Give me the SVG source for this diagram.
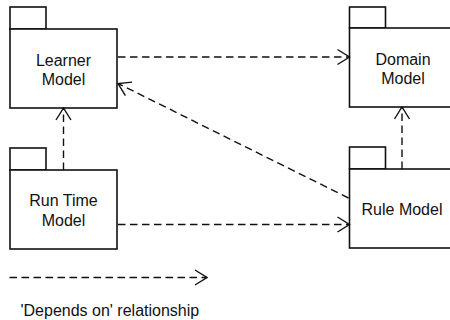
<svg xmlns="http://www.w3.org/2000/svg" width="450" height="320" viewBox="0 0 450 320">
<style>
.box{fill:#fff;stroke:#111;stroke-width:1.6}
.lbl{font-family:"Liberation Sans",Arial,sans-serif;font-size:16px;fill:#111;text-anchor:middle}
.dep{fill:none;stroke:#111;stroke-width:1.4;stroke-dasharray:7.5 4.5}
.head{fill:none;stroke:#111;stroke-width:1.4}
</style>
<defs>
<marker id="open" viewBox="0 0 14 18" refX="13" refY="9" markerWidth="14" markerHeight="18" markerUnits="userSpaceOnUse" orient="auto">
<path d="M1,1.5 L13,9 L1,16.5" class="head"/>
</marker>
</defs>
<rect width="450" height="320" fill="#fff"/>
<g id="learner">
<rect class="box" x="10" y="7" width="36" height="22"/>
<rect class="box" x="10" y="29" width="107" height="79"/>
<text class="lbl" x="63.5" y="66">Learner</text>
<text class="lbl" x="63.5" y="84.5">Model</text>
</g>
<g id="domain">
<rect class="box" x="349.5" y="7" width="36" height="21"/>
<rect class="box" x="349.5" y="28" width="120" height="79"/>
<text class="lbl" x="403" y="64.5">Domain</text>
<text class="lbl" x="403" y="83.5">Model</text>
</g>
<g id="runtime">
<rect class="box" x="10" y="148" width="36" height="22"/>
<rect class="box" x="10" y="170" width="107" height="79"/>
<text class="lbl" x="63.5" y="206">Run Time</text>
<text class="lbl" x="63.5" y="225.5">Model</text>
</g>
<g id="rule">
<rect class="box" x="349.5" y="147" width="36" height="22"/>
<rect class="box" x="349.5" y="169" width="120" height="79"/>
<text class="lbl" x="402" y="214.5">Rule Model</text>
</g>
<g id="connectors">
<line class="dep" x1="118" y1="57" x2="349.5" y2="57" marker-end="url(#open)"/>
<line class="dep" x1="118" y1="224.5" x2="349.5" y2="224.5" marker-end="url(#open)"/>
<line class="dep" x1="63.5" y1="170" x2="63.5" y2="108" marker-end="url(#open)"/>
<line class="dep" x1="402" y1="169" x2="402" y2="107" marker-end="url(#open)"/>
<line class="dep" x1="348.5" y1="198" x2="118" y2="83.5" marker-end="url(#open)"/>
</g>
<g id="legend">
<line class="dep" x1="9.5" y1="277.5" x2="207" y2="277.5" marker-end="url(#open)"/>
<text x="20.5" y="315.5" style="font-family:'Liberation Sans',Arial,sans-serif;font-size:16px;fill:#111">'Depends on' relationship</text>
</g>
</svg>
